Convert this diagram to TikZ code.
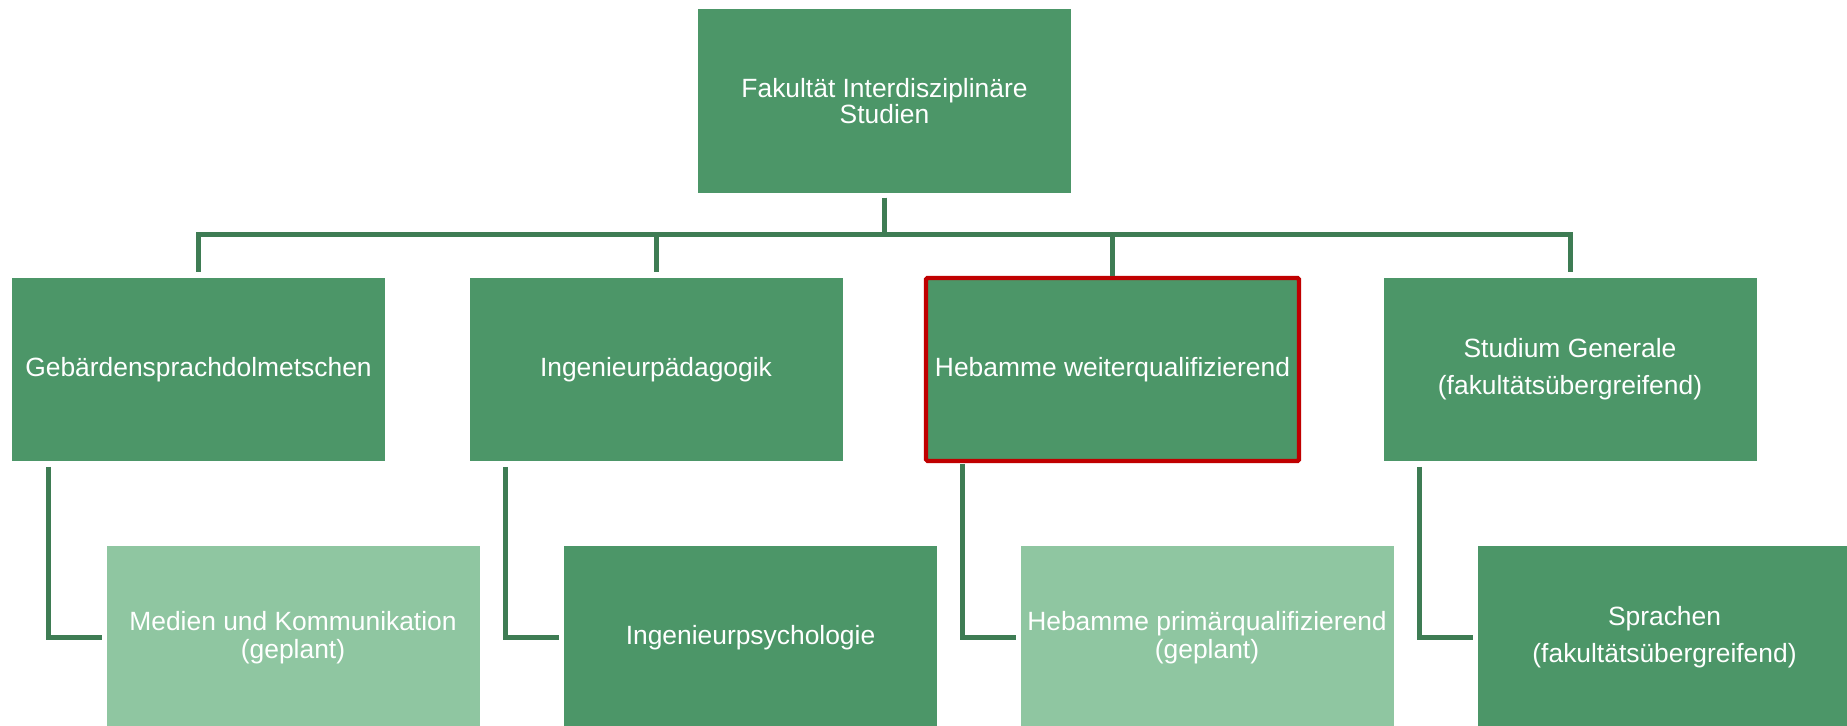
\documentclass[tikz,border=0pt]{standalone}
\usepackage{fontspec}
\setmainfont{Liberation Sans}
\usetikzlibrary{positioning, calc}
\definecolor{FGreen}{HTML}{4C9668}
\definecolor{FGreenLight}{HTML}{8FC6A1}
\definecolor{FLine}{HTML}{3E7C54}
\definecolor{FRed}{HTML}{C00000}

\begin{document}
\begin{tikzpicture}[x=0.5pt, y=-0.5pt,
  unit/.style={fill=FGreen, text=white, minimum width=186.5pt, minimum height=91.5pt,
    inner sep=0pt, outer sep=0pt, align=center, font=\fontsize{13.2}{14}\selectfont},
  planned/.style={unit, fill=FGreenLight},
  conn/.style={draw=FLine, line width=2.5pt}]
  % --- GEOMETRIC VARIABLES (pixels of the chart) ---
  \def\RowA{369.5}
  \def\RowB{637.5}
  \def\BarY{235}

  \useasboundingbox (0,0) rectangle (1847,726);

  % =====================================================================
  % 1. FACULTY (Top)
  % =====================================================================
  \node[unit, minimum height=92pt] (fak) at (884.5,101) {Fakultät Interdisziplinäre\\[-1pt]Studien};

  % =====================================================================
  % 2. PROGRAMMES (Second Row)
  % =====================================================================
  \node[unit] (geb) at (198.5,\RowA) {Gebärdensprachdolmetschen};
  \node[unit] (ing) at (656,\RowA) {Ingenieurpädagogik};
  % Highlighted programme
  \node[unit, draw=FRed, line width=2.2pt, rounded corners=0.8pt] (heb) at (1112.5,\RowA) {Hebamme weiterqualifizierend};
  \node[unit] (stu) at (1570,\RowA) {Studium Generale\\[4.5pt](fakultätsübergreifend)};

  % =====================================================================
  % 3. SUB-PROGRAMMES (Bottom Row, cut by the page)
  % =====================================================================
  \node[planned] (med) at (293,\RowB) {Medien und Kommunikation\\(geplant)};
  \node[unit] (psy) at (750.5,\RowB) {Ingenieurpsychologie};
  \node[planned] (hpq) at (1207,\RowB) {Hebamme primärqualifizierend\\(geplant)};
  \node[unit] (spr) at (1664.5,\RowB) {Sprachen\\[4.5pt](fakultätsübergreifend)};

  % =====================================================================
  % 4. CONNECTORS
  % =====================================================================
  \coordinate (bar) at (0,\BarY);
  % Tree from the faculty
  \draw[conn, shorten <=2.5pt, shorten >=3pt] (fak.south) -- (fak.south |- bar) -| (geb.north);
  \draw[conn, shorten <=2.5pt, shorten >=3pt] (fak.south) -- (fak.south |- bar) -| (ing.north);
  \draw[conn, shorten <=2.5pt, shorten >=1pt] (fak.south) -- (fak.south |- bar) -| (heb.north);
  \draw[conn, shorten <=2.5pt, shorten >=3pt] (fak.south) -- (fak.south |- bar) -| (stu.north);
  % Elbows to the sub-programmes
  \draw[conn, shorten >=2.5pt] ([xshift=18pt, yshift=-3pt]geb.south west) |- (med.west);
  \draw[conn, shorten >=2.5pt] ([xshift=18pt, yshift=-3pt]ing.south west) |- (psy.west);
  \draw[conn, shorten >=2.5pt] ([xshift=18pt, yshift=-1.5pt]heb.south west) |- (hpq.west);
  \draw[conn, shorten >=2.5pt] ([xshift=18pt, yshift=-3pt]stu.south west) |- (spr.west);

\end{tikzpicture}
\end{document}
